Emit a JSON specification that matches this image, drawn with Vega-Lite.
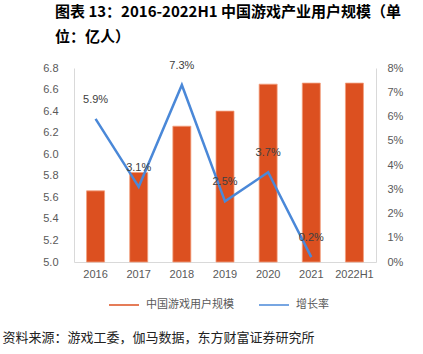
{
  "$schema": "https://vega.github.io/schema/vega-lite/v6.json",
  "width": 302,
  "height": 194,
  "autosize": {"type": "none"},
  "padding": {"left": 74, "top": 68, "right": 47, "bottom": 92},
  "background": "white",
  "title": {
    "text": ["图表 13：2016-2022H1 中国游戏产业用户规模（单", "位：亿人）"],
    "anchor": "start",
    "frame": "group",
    "dx": -19,
    "font": "Noto Sans CJK SC",
    "fontSize": 15,
    "fontWeight": "bold",
    "color": "#000000",
    "lineHeight": 25,
    "offset": 15
  },
  "config": {
    "view": {"stroke": null},
    "axis": {"grid": false, "ticks": false, "domainColor": "#D9D9D9", "labelColor": "#595959", "labelFontSize": 11, "labelFont": "Liberation Sans"}
  },
  "data": {
    "values": [
      {"year": "2016", "users": 5.66, "rate": 0.059},
      {"year": "2017", "users": 5.83, "rate": 0.031},
      {"year": "2018", "users": 6.26, "rate": 0.073},
      {"year": "2019", "users": 6.40, "rate": 0.025},
      {"year": "2020", "users": 6.65, "rate": 0.037},
      {"year": "2021", "users": 6.66, "rate": 0.002},
      {"year": "2022H1", "users": 6.66, "rate": null}
    ]
  },
  "encoding": {
    "x": {
      "field": "year", "type": "nominal", "sort": null,
      "axis": {
        "labelAngle": 0, "labelPadding": 6,
        "title": "资料来源：游戏工委，伽马数据，东方财富证券研究所",
        "titleAnchor": "start", "titleAlign": "left", "titleX": -72, "titleY": 75,
        "titleBaseline": "middle",
        "titleFont": "Noto Sans CJK SC", "titleFontSize": 13, "titleFontWeight": "normal", "titleColor": "#222222"
      }
    }
  },
  "layer": [
    {
      "mark": {"type": "bar", "size": 18, "stroke": "#F2A07E", "strokeWidth": 0.8},
      "encoding": {
        "y": {
          "field": "users", "type": "quantitative",
          "scale": {"domain": [5, 6.8], "zero": false, "nice": false},
          "axis": {"values": [5.0, 5.2, 5.4, 5.6, 5.8, 6.0, 6.2, 6.4, 6.6, 6.8], "format": ".1f", "labelPadding": 16, "title": null}
        },
        "y2": {"datum": 5},
        "color": {
          "datum": "中国游戏用户规模",
          "scale": {"domain": ["中国游戏用户规模", "增长率"], "range": ["#DC5020", "#4A88D8"]},
          "legend": {
            "orient": "none", "legendX": 34, "legendY": 221, "direction": "horizontal",
            "title": null, "symbolType": "stroke", "symbolSize": 900,
            "labelFont": "Noto Sans CJK SC", "labelFontSize": 11, "labelColor": "#595959",
            "columnPadding": 22, "labelOffset": 6, "padding": 0,
            "encode": {
              "symbols": {
                "update": {
                  "stroke": {"scale": "color", "field": "value"},
                  "strokeWidth": {"signal": "datum.value === '增长率' ? 2.5 : 7"}
                }
              }
            }
          }
        }
      }
    },
    {
      "encoding": {
        "y": {
          "field": "rate", "type": "quantitative",
          "scale": {"domain": [0, 0.08], "nice": false},
          "axis": {"orient": "right", "values": [0, 0.01, 0.02, 0.03, 0.04, 0.05, 0.06, 0.07, 0.08], "format": ".0%", "labelPadding": 11, "title": null}
        }
      },
      "layer": [
        {
          "mark": {"type": "line", "strokeWidth": 2.5},
          "encoding": {"color": {"datum": "增长率"}}
        },
        {
          "mark": {"type": "text", "dy": -19, "fontSize": 11, "color": "#404040", "font": "Liberation Sans"},
          "encoding": {"text": {"field": "rate", "type": "quantitative", "format": ".1%"}}
        }
      ]
    }
  ],
  "resolve": {"scale": {"y": "independent"}}
}
